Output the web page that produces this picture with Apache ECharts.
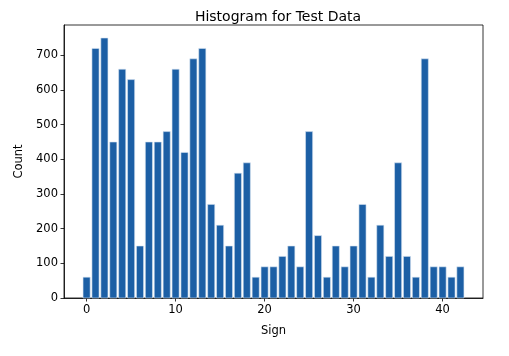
<!DOCTYPE html>
<html>
<head>
<meta charset="utf-8">
<script src="https://cdn.jsdelivr.net/npm/echarts@6/dist/echarts.min.js"></script>
<style>html,body{margin:0;padding:0;background:#fff}#c{width:509px;height:356px}</style>
</head>
<body>
<div id="c"></div>
<script>
const signs = [0,1,2,3,4,5,6,7,8,9,10,11,12,13,14,15,16,17,18,19,20,21,22,23,24,25,26,27,28,29,30,31,32,33,34,35,36,37,38,39,40,41,42];
const counts = [60,720,750,450,660,630,150,450,450,480,660,420,690,720,270,210,150,360,390,60,90,90,120,150,90,480,180,60,150,90,150,270,60,210,120,390,120,60,690,90,90,60,90];
const xTicks = [0,10,20,30,40];
const yTicks = [0,100,200,300,400,500,600,700];
const title = 'Histogram for Test Data';
const xName = 'Sign';
const yName = 'Count';

const barW = 0.8;
const font = 'DejaVu Sans';
const fs = 11.5;
const chart = echarts.init(document.getElementById('c'), null, {renderer:'canvas'});
chart.setOption({
  animation:false,
  title:{text:title,left:273,top:5,textAlign:'center',textStyle:{fontFamily:font,fontSize:14,fontWeight:'normal',color:'#000'}},
  grid:{left:64,top:25,right:26,bottom:58,show:true,borderColor:'#000',borderWidth:0.8,backgroundColor:'transparent'},
  xAxis:{type:'value',min:-2.54,max:44.54,
    name:xName,nameLocation:'middle',nameGap:27,nameTextStyle:{fontFamily:font,fontSize:fs,color:'#000'},
    axisLine:{show:true,onZero:false,lineStyle:{color:'#000',width:0.8}},
    axisTick:{show:true,length:3.5,customValues:xTicks,lineStyle:{color:'#000',width:0.8}},
    axisLabel:{customValues:xTicks,fontFamily:font,fontSize:fs,color:'#000',margin:6},
    splitLine:{show:false}},
  yAxis:{type:'value',min:0,max:787.5,
    name:yName,nameLocation:'middle',nameGap:38,nameRotate:90,nameTextStyle:{fontFamily:font,fontSize:fs,color:'#000'},
    axisLine:{show:true,onZero:false,lineStyle:{color:'#000',width:0.8}},
    axisTick:{show:true,length:3.5,customValues:yTicks,lineStyle:{color:'#000',width:0.8}},
    axisLabel:{customValues:yTicks,fontFamily:font,fontSize:fs,color:'#000',margin:6},
    splitLine:{show:false}},
  series:[{type:'custom',
    data:signs.map((s,i)=>[s,counts[i]]),
    encode:{x:0,y:1},
    renderItem:function(params,api){
      const x=api.value(0), y=api.value(1);
      const p0=api.coord([x-barW/2,0]);
      const p1=api.coord([x+barW/2,y]);
      return {type:'rect',shape:{x:p0[0],y:p1[1],width:p1[0]-p0[0],height:p0[1]-p1[1]},
        style:{fill:'#1c5fa5',stroke:'#d6e4f2',lineWidth:0.6}};
    }}]
});
</script>
</body>
</html>
